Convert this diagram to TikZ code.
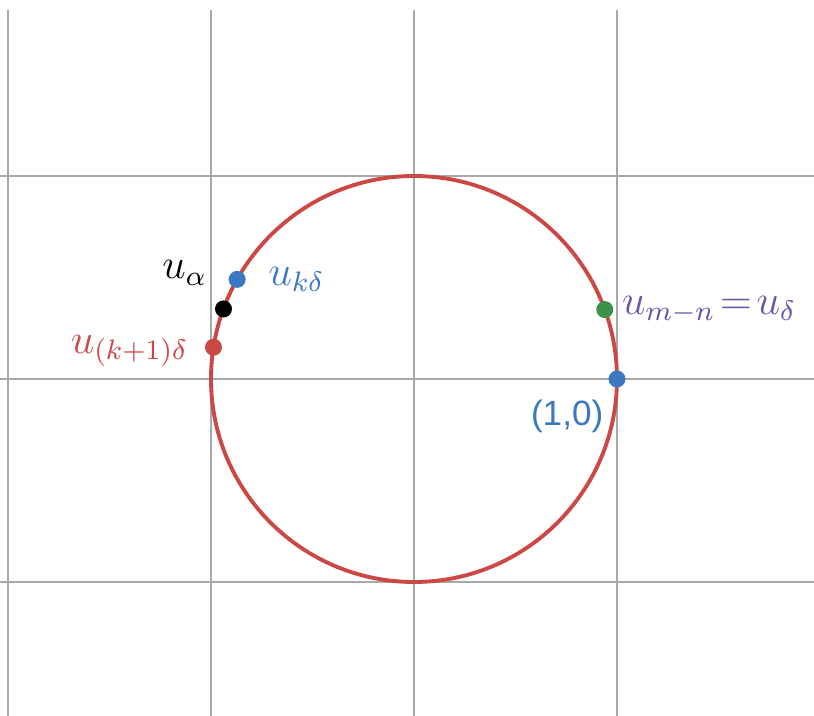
\documentclass[tikz,border=0pt]{standalone}
\usepackage{fontspec}
\setsansfont{Liberation Sans}
\usetikzlibrary{positioning}
\definecolor{dblue}{HTML}{3A78C2}
\definecolor{dred}{HTML}{CC4845}
\definecolor{dgreen}{HTML}{3C9048}
\definecolor{dpurple}{HTML}{6A55A8}
\definecolor{gridgray}{HTML}{A8A8A8}

\begin{document}
\begin{tikzpicture}[
gridline/.style={draw=gridgray, line width=0.6pt},
curve/.style={draw=dred, line width=1.1pt},
dot/.style={circle, fill=#1, inner sep=0pt, minimum size=0.17cm},
lbl/.style={font=\fontsize{12}{14}\selectfont, inner sep=1pt}
]
\useasboundingbox (-4.14,-3.37) rectangle (4.00,3.79);

% grid
\foreach \x in {-4.06,-2.03,0,2.03}
  \draw[gridline] (\x,-3.37) -- (\x,3.69);
\foreach \y in {-2.03,0,2.03}
  \draw[gridline] (-4.14,\y) -- (4.00,\y);

% unit circle
\coordinate (o) at (0,0);
\draw[curve] (o) circle (2.03);

% points
\node[dot=dblue] (one) at (0:2.03) {};
\node[dot=dgreen] (mn) at (20:2.03) {};
\node[dot=dblue] (kd) at (150.6:2.03) {};
\node[dot=black] (alpha) at (159.8:2.03) {};
\node[dot=dred] (kone) at (171:2.03) {};

% labels
\node[lbl, text=black] (alphalbl) [above left=0.13cm and 0.06cm of alpha] {$u_\alpha$};
\node[lbl, text=dblue] (kdlbl) [right=0.18cm of kd] {$u_{k\delta}$};
\node[lbl, text=dred] (konelbl) [left=0.12cm of kone, yshift=-1pt] {$u_{(k+1)\delta}$};
\node[lbl, text=dpurple] (mnlbl) [right=0.04cm of mn] {$u_{m-n}\mkern-3mu=\mkern-3mu u_\delta$};
\node[lbl, text=dblue, font=\sffamily\fontsize{10}{12}\selectfont] (onelbl) [below left=0.1cm and 0.03cm of one] {(1,0)};

\end{tikzpicture}
\end{document}
